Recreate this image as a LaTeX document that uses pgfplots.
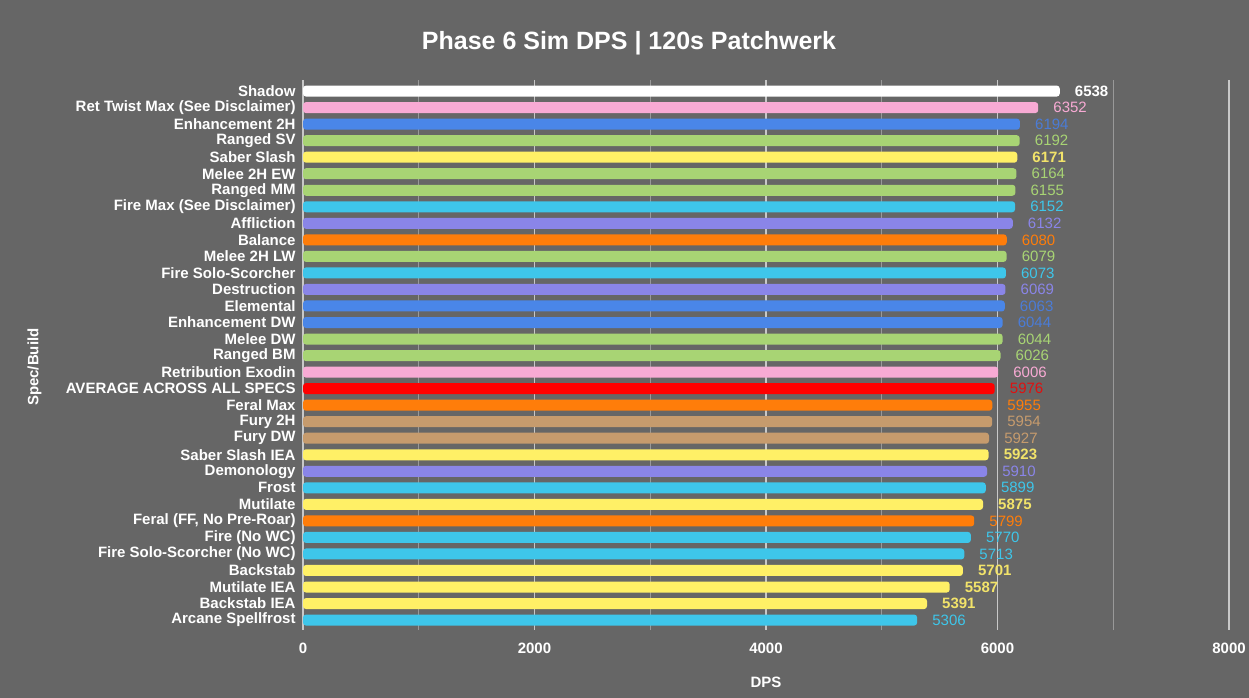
\documentclass[border=0pt]{standalone}
\usepackage{fontspec}
\setmainfont{Liberation Sans}
\usepackage{pgfplots}
\pgfplotsset{compat=1.18}

\definecolor{bg}{HTML}{666666}
\definecolor{gridmaj}{HTML}{C8C8C8}
\definecolor{gridmin}{HTML}{999999}
\definecolor{cwhite}{HTML}{FFFFFF}
\definecolor{cpink}{HTML}{F8AAD4}
\definecolor{cblue}{HTML}{4A86E8}
\definecolor{cbluetxt}{HTML}{4B7CD6}
\definecolor{cgreen}{HTML}{A8D474}
\definecolor{cyellow}{HTML}{FFF066}
\definecolor{cyellowtxt}{HTML}{F2E36A}
\definecolor{ccyan}{HTML}{3EC6EA}
\definecolor{cpurple}{HTML}{8A85E8}
\definecolor{corange}{HTML}{FF7D0A}
\definecolor{cred}{HTML}{FF0000}
\definecolor{credtxt}{HTML}{E01010}
\definecolor{ctan}{HTML}{C69B6D}

\begin{document}
\begin{tikzpicture}[x=1pt,y=1pt]
\fill[bg] (0,0) rectangle (1249,698);
\node[text=white, font=\fontsize{25}{25}\selectfont\bfseries] at (629,655) {Phase 6 Sim DPS | 120s Patchwerk};
\begin{axis}[
  at={(303pt,68pt)}, anchor=south west,
  scale only axis, width=926pt, height=550pt,
  xmin=0, xmax=8000, ymin=-0.67, ymax=32.6, y dir=reverse,
  xtick={0,2000,4000,6000,8000},
  minor xtick={1000,3000,5000,7000},
  xmajorgrids, xminorgrids,
  major grid style={gridmaj, line width=1.2pt},
  minor grid style={gridmin, line width=1.2pt},
  axis line style={draw=none},
  tick style={draw=none},
  /pgf/number format/1000 sep={},
  /pgf/number format/assume math mode=true,
  ytick={0,...,32},
  yticklabels={Shadow, Ret Twist Max (See Disclaimer), Enhancement 2H, Ranged SV,
    Saber Slash, Melee 2H EW, Ranged MM, Fire Max (See Disclaimer), Affliction,
    Balance, Melee 2H LW, Fire Solo-Scorcher, Destruction, Elemental,
    Enhancement DW, Melee DW, Ranged BM, Retribution Exodin,
    AVERAGE ACROSS ALL SPECS, Feral Max, Fury 2H, Fury DW, Saber Slash IEA,
    Demonology, Frost, Mutilate, {Feral (FF, No Pre-Roar)}, Fire (No WC),
    Fire Solo-Scorcher (No WC), Backstab, Mutilate IEA, Backstab IEA,
    Arcane Spellfrost},
  yticklabel style={text=white, font=\fontsize{15}{15}\selectfont\bfseries,
    inner sep=0pt, anchor=east, xshift=-3pt},
  xticklabel style={text=white, font=\fontsize{15}{15}\selectfont\bfseries,
    inner sep=0pt, anchor=north, yshift=-13pt},
  xlabel={DPS},
  ylabel={Spec/Build},
  xlabel style={text=white, font=\fontsize{15}{15}\selectfont\bfseries,
    at={(axis description cs:0.5,-0.096)}, anchor=center},
  ylabel style={text=white, font=\fontsize{15}{15}\selectfont\bfseries,
    at={(axis description cs:-0.290,0.478)}, anchor=center},
  xbar, bar width=11pt, bar shift=0pt,
  nodes near coords,
  every node near coord/.append style={font=\fontsize{15}{15}\selectfont,
    inner sep=0pt, anchor=west, xshift=15pt},
  every axis plot/.append style={draw=none, rounded corners=3pt},
]
% one series per bar colour, bars indexed from the top (0) down
\addplot[fill=cwhite, every node near coord/.append style={text=cwhite, font=\fontsize{15}{15}\selectfont\bfseries}]
  coordinates {(6538,0)};
\addplot[fill=cpink, every node near coord/.append style={text=cpink}]
  coordinates {(6352,1) (6006,17)};
\addplot[fill=cblue, every node near coord/.append style={text=cbluetxt}]
  coordinates {(6194,2) (6063,13) (6044,14)};
\addplot[fill=cgreen, every node near coord/.append style={text=cgreen}]
  coordinates {(6192,3) (6164,5) (6155,6) (6079,10) (6044,15) (6026,16)};
\addplot[fill=cyellow, every node near coord/.append style={text=cyellowtxt, font=\fontsize{15}{15}\selectfont\bfseries}]
  coordinates {(6171,4) (5923,22) (5875,25) (5701,29) (5587,30) (5391,31)};
\addplot[fill=ccyan, every node near coord/.append style={text=ccyan}]
  coordinates {(6152,7) (6073,11) (5899,24) (5770,27) (5713,28) (5306,32)};
\addplot[fill=cpurple, every node near coord/.append style={text=cpurple}]
  coordinates {(6132,8) (6069,12) (5910,23)};
\addplot[fill=corange, every node near coord/.append style={text=corange}]
  coordinates {(6080,9) (5955,19) (5799,26)};
\addplot[fill=cred, every node near coord/.append style={text=credtxt}]
  coordinates {(5976,18)};
\addplot[fill=ctan, every node near coord/.append style={text=ctan}]
  coordinates {(5954,20) (5927,21)};
\end{axis}
\pgfresetboundingbox
\path[use as bounding box] (0,0) rectangle (1249,698);
\end{tikzpicture}
\end{document}
